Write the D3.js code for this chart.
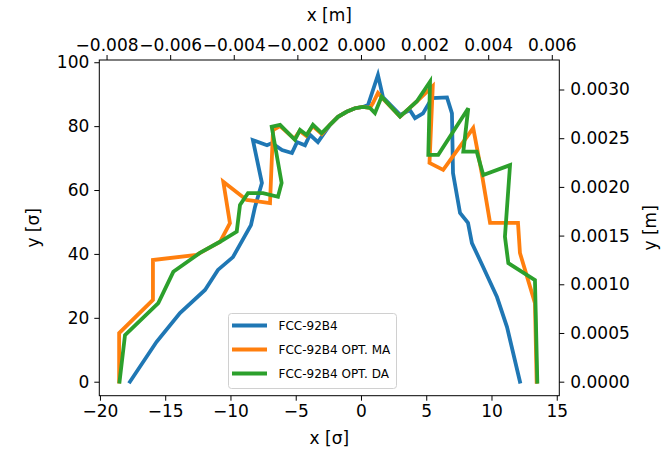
<!DOCTYPE html>
<html>
<head>
<meta charset="utf-8">
<script src="https://cdn.jsdelivr.net/npm/d3@7"></script>
<style>
  body { margin: 0; background: #fff; }
  svg text { font-family: "DejaVu Sans", sans-serif; }
</style>
</head>
<body>
<div id="chart"></div>
<script>
// series (x in sigma, y in sigma)
const blueX = [-17.7, -15.66, -13.87, -11.95, -10.96, -9.81, -8.43, -8.12, -7.59, -8.28, -7.2, -6.82, -6.05, -5.29, -4.9, -4.29, -3.91, -3.3, -2.7, -2.38, -1.76, -1.1, -0.46, 0.15, 0.54, 1.3, 1.69, 3.0, 3.75, 4.14, 4.75, 5.44, 6.59, 6.97, 7.05, 7.59, 8.2, 8.5, 9.35, 10.42, 11.19, 12.18];
const blueY = [0, 12.5, 21.5, 28.7, 35, 39, 49, 54.7, 62.2, 75.6, 74, 74.7, 72.5, 71.6, 75, 74, 77.3, 75, 78.5, 80.4, 82.9, 84.5, 85.6, 86, 86.6, 96, 89, 83.5, 85, 82.5, 84, 88.8, 89, 84, 65.3, 52.8, 49.7, 43.4, 36, 26.5, 17.1, 0];

const orangeX = [-18.53, -18.53, -15.94, -15.94, -12.6, -10.8, -10.04, -10.55, -8.76, -6.97, -6.74, -6.2, -5.1, -4.7, -4.2, -3.7, -3.0, -2.38, -1.76, -1.1, -0.46, 0.15, 0.69, 0.92, 1.3, 1.7, 3.0, 4.27, 5.5, 5.25, 6.3, 8.6, 9.25, 9.89, 12.03, 12.18, 13.33, 13.46];
const orangeY = [0, 15.2, 25.6, 38.1, 39.7, 43.8, 49.6, 62.6, 56.9, 55.9, 78.8, 80, 76, 78.5, 77, 80, 77.5, 80.4, 82.9, 84.5, 85.6, 86, 85.7, 87.2, 90.4, 88.5, 83, 87.7, 92.5, 68.5, 66.3, 79.4, 65.3, 49.7, 49.7, 40.3, 24.6, 0];

const greenX = [-18.5, -18.08, -15.53, -14.38, -12.34, -10.8, -9.52, -9.27, -8.66, -7.51, -6.36, -6.08, -6.84, -6.2, -5.06, -4.67, -4.16, -3.68, -3.01, -2.38, -1.76, -1.1, -0.46, 0.15, 0.69, 1.07, 1.58, 2.99, 4.27, 5.29, 5.16, 5.92, 8.22, 7.84, 8.87, 9.37, 11.42, 11.03, 11.29, 13.33, 13.51];
const greenY = [0, 14.6, 24.6, 34.4, 40.3, 43.8, 47, 55.3, 59, 59, 57.9, 62.2, 79.8, 80.4, 75.7, 78.8, 77.2, 80.4, 77.8, 80.4, 82.9, 84.5, 85.6, 86, 85.7, 84.1, 89.2, 83, 87.7, 93.9, 71, 71, 85.6, 72, 72, 64.7, 67.8, 45.4, 37.1, 31.8, 0];

const seriesNames = ["FCC-92B4", "FCC-92B4 OPT. MA", "FCC-92B4 OPT. DA"];
const seriesColors = ["#1f77b4", "#ff7f0e", "#2ca02c"];

const xTicks = [-20, -15, -10, -5, 0, 5, 10, 15];
const yTicks = [0, 20, 40, 60, 80, 100];
const xmTicks = [-0.008, -0.006, -0.004, -0.002, 0, 0.002, 0.004, 0.006];
const ymTicks = [0, 0.0005, 0.001, 0.0015, 0.002, 0.0025, 0.003];

const width = 666;
const height = 457;
const plotLeft = 99.3, plotRight = 559.3, plotTop = 60, plotBottom = 395.7;
const fontSize = "17px";

const x = d3.scaleLinear().domain([-20.05, 15.195]).range([plotLeft, plotRight]);
const y = d3.scaleLinear().domain([-4.38, 100.7]).range([plotBottom, plotTop]);
const xm = d3.scaleLinear().domain([-0.008228, 0.006236]).range([plotLeft, plotRight]);
const ym = d3.scaleLinear().domain([-0.000144, 0.003303]).range([plotBottom, plotTop]);

const svg = d3.select("#chart")
  .append("svg")
  .attr("width", width)
  .attr("height", height);

const series = [
  d3.zip(blueX, blueY),
  d3.zip(orangeX, orangeY),
  d3.zip(greenX, greenY)
];

const line = d3.line().x(d => x(d[0])).y(d => y(d[1]));

svg.append("g")
  .selectAll("path")
  .data(series)
  .enter()
  .append("path")
  .attr("d", line)
  .attr("fill", "none")
  .attr("stroke", (d, i) => seriesColors[i])
  .attr("stroke-width", 3.8)
  .attr("stroke-linejoin", "miter")
  .attr("stroke-linecap", "square");

function styleAxis(g) {
  g.attr("font-family", "DejaVu Sans");
  g.selectAll(".domain").remove();
  g.selectAll(".tick line").attr("stroke", "#000").attr("stroke-width", 1);
  g.selectAll(".tick text").attr("fill", "#000").style("font-size", fontSize);
}

svg.append("g")
  .attr("transform", `translate(0,${plotBottom})`)
  .call(d3.axisBottom(x).tickValues(xTicks).tickSize(5).tickPadding(4))
  .call(styleAxis);

svg.append("g")
  .attr("transform", `translate(${plotLeft},0)`)
  .call(d3.axisLeft(y).tickValues(yTicks).tickSize(5).tickPadding(5))
  .call(styleAxis);

svg.append("g")
  .attr("transform", `translate(0,${plotTop})`)
  .call(d3.axisTop(xm).tickValues(xmTicks).tickFormat(d3.format(".3f")).tickSize(5).tickPadding(4))
  .call(styleAxis);

svg.append("g")
  .attr("transform", `translate(${plotRight},0)`)
  .call(d3.axisRight(ym).tickValues(ymTicks).tickFormat(d3.format(".4f")).tickSize(5).tickPadding(6))
  .call(styleAxis);

// frame
svg.append("rect")
  .attr("x", plotLeft).attr("y", plotTop)
  .attr("width", plotRight - plotLeft).attr("height", plotBottom - plotTop)
  .attr("fill", "none")
  .attr("stroke", "#000")
  .attr("stroke-width", 1);

// axis labels
svg.append("text").attr("x", (plotLeft + plotRight) / 2).attr("y", 444)
  .attr("text-anchor", "middle").style("font-size", fontSize).text("x [σ]");
svg.append("text").attr("x", (plotLeft + plotRight) / 2).attr("y", 21)
  .attr("text-anchor", "middle").style("font-size", fontSize).text("x [m]");
svg.append("text")
  .attr("transform", `translate(39,${(plotTop + plotBottom) / 2}) rotate(-90)`)
  .attr("text-anchor", "middle").style("font-size", fontSize).text("y [σ]");
svg.append("text")
  .attr("transform", `translate(656,${(plotTop + plotBottom) / 2}) rotate(-90)`)
  .attr("text-anchor", "middle").style("font-size", fontSize).text("y [m]");

// legend
const legend = svg.append("g").attr("transform", "translate(228.5,313.5)");
legend.append("rect")
  .attr("width", 168).attr("height", 75)
  .attr("rx", 3)
  .attr("fill", "#fff").attr("fill-opacity", 0.8)
  .attr("stroke", "#d0d0d0");

seriesNames.forEach((name, i) => {
  const ly = 12 + i * 24;
  legend.append("line")
    .attr("x1", 3.5).attr("x2", 38.5)
    .attr("y1", ly).attr("y2", ly)
    .attr("stroke", seriesColors[i])
    .attr("stroke-width", 3.8);
  legend.append("text")
    .attr("x", 50).attr("y", ly + 4.5)
    .style("font-size", "12px")
    .text(name);
});
</script>
</body>
</html>
